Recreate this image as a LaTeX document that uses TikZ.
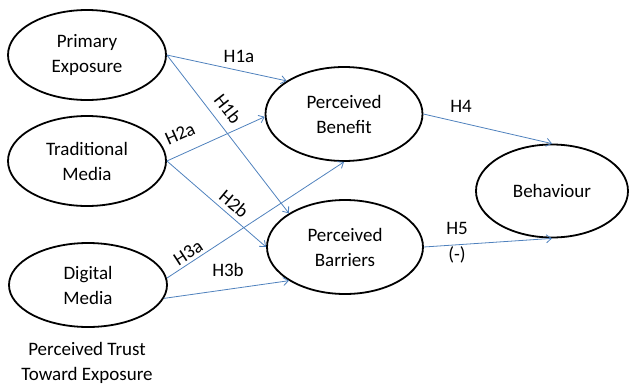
\documentclass[tikz,border=0pt]{standalone}
\usepackage{fontspec}
\setmainfont{Carlito}
\usetikzlibrary{shapes.geometric,arrows.meta}
\definecolor{arrowblue}{RGB}{79,129,189}
\tikzset{
  var/.style={ellipse, draw=black, line width=1.8pt, inner sep=0pt, align=center,
              font=\fontsize{19}{25}\selectfont},
  conn/.style={draw=arrowblue, line width=0.8pt, -{Straight Barb[length=5pt,width=8pt]}},
  lab/.style={font=\fontsize{19}{25}\selectfont, inner sep=0pt, align=center}
}
\begin{document}
\begin{tikzpicture}[x=1pt,y=-1pt]
\useasboundingbox (0,0) rectangle (629,389);
\node[var, minimum width=158pt, minimum height=90pt] (pe) at (87,55) {Primary\\Exposure};
\node[var, minimum width=158pt, minimum height=90pt] (tm) at (87,161) {Traditional\\Media};
\node[var, minimum width=158pt, minimum height=84pt] (dm) at (88,285) {Digital\\Media};
\node[var, minimum width=157pt, minimum height=94pt] (pb) at (344,114) {Perceived\\Benefit};
\node[var, minimum width=156pt, minimum height=94pt] (br) at (345,247) {Perceived\\Barriers};
\node[var, minimum width=152pt, minimum height=93pt] (bh) at (552,191) {Behaviour};
\node[lab] (trust) at (87,363) {Perceived Trust\\Toward Exposure};

\draw[conn] (pe.east) -- (pb.150);
\draw[conn] (pe.east) -- (br.149);
\draw[conn] (tm.east) -- (pb.182);
\draw[conn] (tm.east) -- (br.west);
\draw[conn] (dm.5) -- (pb.south);
\draw[conn] (dm.-10) -- (br.211);
\draw[conn] (pb.east) -- (bh.north);
\draw[conn] (br.east) -- (bh.south);

\node[lab] (h1a) at (239,56) {H1a};
\node[lab, rotate=-52] (h1b) at (228,109) {H1b};
\node[lab, rotate=24] (h2a) at (180,134) {H2a};
\node[lab, rotate=-40] (h2b) at (234,204) {H2b};
\node[lab, rotate=33] (h3a) at (188,253) {H3a};
\node[lab] (h3b) at (228,270) {H3b};
\node[lab] (h4) at (461,106) {H4};
\node[lab] (h5) at (457,228) {H5};
\node[lab] (neg) at (457,255) {(-)};
\end{tikzpicture}
\end{document}
